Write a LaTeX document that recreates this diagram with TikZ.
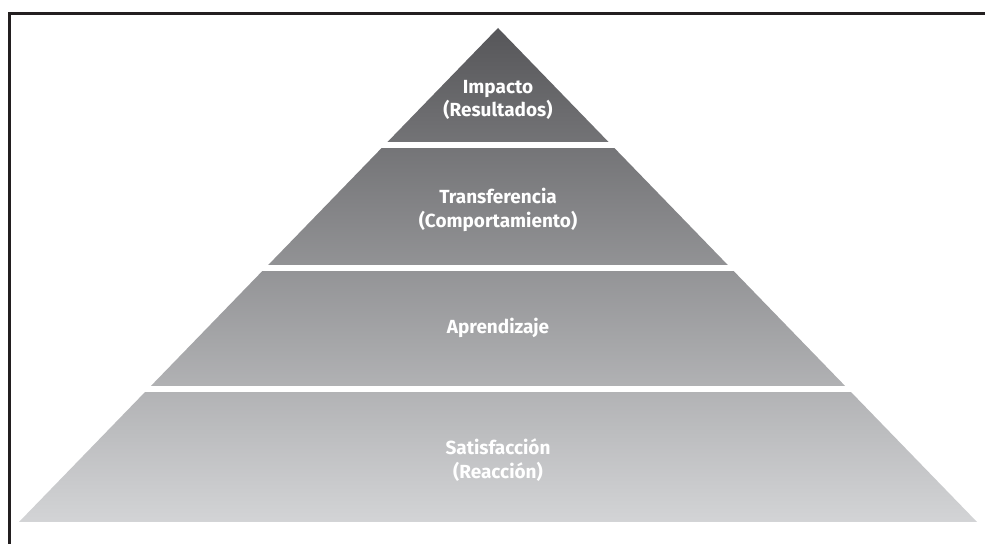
\documentclass[tikz,border=0pt]{standalone}
\usepackage{fontspec}
\setmainfont{Fira Sans}
\definecolor{framegray}{RGB}{35,31,32}
\definecolor{pyrtop}{RGB}{86,86,89}
\definecolor{pyrbottom}{RGB}{211,212,214}
\tikzset{lvltext/.style={text=white, align=center, font=\bfseries\fontsize{13.5}{16.5}\selectfont}}
\begin{document}
\begin{tikzpicture}
  \useasboundingbox (0,0) rectangle (24.625,13.6);
	% frame on the left and top
	\draw[framegray, line width=2.1pt] (0.2375,0) -- (0.2375,13.2625) -- (24.625,13.2625);
	% pyramid, one shaded triangle
	\begin{scope}
	 \clip (0.475,0.55) -- (12.45,12.9) -- (24.425,0.55) -- cycle;
	 \shade[top color=pyrtop, bottom color=pyrbottom] (0.4,0.55) rectangle (24.5,12.9);
	\end{scope}
	% white gaps between the levels
	 \fill[white] (0.4,9.9) rectangle (24.5,10.05);
	 \fill[white] (0.4,6.825) rectangle (24.5,6.975);
	 \fill[white] (0.4,3.8) rectangle (24.5,3.95);
	% levels
  	\node [lvltext] (impacto) at (12.45,11.1) {Impacto\\(Resultados)};
  	\node [lvltext] (transfer) at (12.45,8.35) {Transferencia\\(Comportamiento)};
  	\node [lvltext] (aprend) at (12.45,5.4) {Aprendizaje};
  	\node [lvltext] (satisf) at (12.45,2.1) {Satisfacción\\(Reacción)};
\end{tikzpicture}
\end{document}
